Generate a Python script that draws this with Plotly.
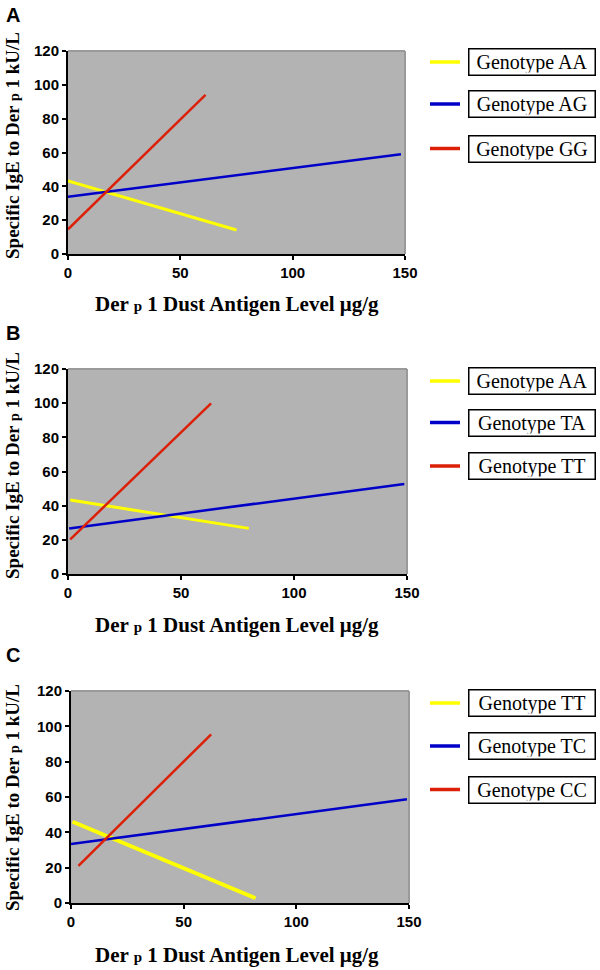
import plotly.graph_objects as go

# ---- data ----
panel_letters = ["A", "B", "C"]
names_a = ["Genotype AA", "Genotype AG", "Genotype GG"]
names_b = ["Genotype AA", "Genotype TA", "Genotype TT"]
names_c = ["Genotype TT", "Genotype TC", "Genotype CC"]

a_aa_x = [0, 75];    a_aa_y = [43.2, 14.2]
a_ag_x = [0, 148.2]; a_ag_y = [33.8, 59.0]
a_gg_x = [0, 61.2];  a_gg_y = [14.6, 94.0]

b_aa_x = [1, 80];    b_aa_y = [43.3, 26.7]
b_ta_x = [0.5, 148.8]; b_ta_y = [26.7, 52.7]
b_tt_x = [1, 63.3];  b_tt_y = [20.3, 99.9]

c_tt_x = [0.7, 81.9]; c_tt_y = [46.0, 2.7]
c_tc_x = [0, 149.1];  c_tc_y = [33.4, 58.7]
c_cc_x = [3.3, 62.2]; c_cc_y = [21.0, 95.5]

x_ticks = [0, 50, 100, 150]
y_ticks = [0, 20, 40, 60, 80, 100, 120]

colors = ["#ffff00", "#0000c8", "#dc2008"]
widths = [3, 2.5, 2.5]

W, H = 600, 970
# pixel layout of each panel: (left, right, top, bottom)
boxes = [(68, 405, 51, 254), (68, 407, 369, 574), (71, 409, 691, 903)]
legend_centers = [[62, 104, 148.5], [381, 422.5, 466], [703, 746, 789.5]]
xtitle_y = [304, 625, 955]
ytitle_y = [146, 466, 798]
letter_y = [15, 333, 655]

panels = [
    (names_a, [(a_aa_x, a_aa_y), (a_ag_x, a_ag_y), (a_gg_x, a_gg_y)]),
    (names_b, [(b_aa_x, b_aa_y), (b_ta_x, b_ta_y), (b_tt_x, b_tt_y)]),
    (names_c, [(c_tt_x, c_tt_y), (c_tc_x, c_tc_y), (c_cc_x, c_cc_y)]),
]

fig = go.Figure()
annotations = []
shapes = []

serif = "Liberation Serif, Times New Roman, serif"
sans = "Liberation Sans, Arial, sans-serif"

for i, (names, series) in enumerate(panels):
    xa = "x" if i == 0 else f"x{i+1}"
    ya = "y" if i == 0 else f"y{i+1}"
    xkey = "xaxis" if i == 0 else f"xaxis{i+1}"
    ykey = "yaxis" if i == 0 else f"yaxis{i+1}"
    L, R, T, B = boxes[i]
    for j, (xs, ys) in enumerate(series):
        lw = widths[j]
        if i == 2 and j == 0:
            lw = 4
        fig.add_trace(go.Scatter(x=xs, y=ys, mode="lines", name=names[j],
                                 line=dict(color=colors[j], width=lw),
                                 xaxis=xa, yaxis=ya, showlegend=False))
    tf = dict(family=sans, size=15, color="black", weight=700)
    fig.update_layout(**{
        xkey: dict(domain=[L / W, R / W], range=[0, 150], anchor=ya, automargin=False,
                   tickvals=x_ticks, ticks="outside", ticklen=4, tickwidth=1.5,
                   tickcolor="black", showline=True, linecolor="black", linewidth=2,
                   showgrid=False, zeroline=False, tickfont=tf),
        ykey: dict(domain=[1 - B / H, 1 - T / H], range=[0, 120], anchor=xa, automargin=False,
                   tickvals=y_ticks, ticks="outside", ticklen=4, tickwidth=1.5,
                   tickcolor="black", showline=True, linecolor="black", linewidth=2,
                   showgrid=False, zeroline=False, tickfont=tf),
    })
    # grey top/right border of plot area
    shapes.append(dict(type="line", xref="paper", yref="paper",
                       x0=L / W, x1=R / W, y0=1 - T / H, y1=1 - T / H,
                       line=dict(color="#9a9a9a", width=2)))
    shapes.append(dict(type="line", xref="paper", yref="paper",
                       x0=R / W, x1=R / W, y0=1 - T / H, y1=1 - B / H,
                       line=dict(color="#9a9a9a", width=2)))
    # legend
    for j, name in enumerate(names):
        cy = 1 - legend_centers[i][j] / H
        shapes.append(dict(type="line", xref="paper", yref="paper",
                           x0=430 / W, x1=460 / W, y0=cy, y1=cy,
                           line=dict(color=colors[j], width=3.5)))
        annotations.append(dict(xref="paper", yref="paper", x=468 / W, y=cy,
                                xanchor="left", yanchor="middle", showarrow=False,
                                text=name, width=121, height=21, borderpad=2,
                                bordercolor="black", borderwidth=1.5, bgcolor="white",
                                font=dict(family=serif, size=20, color="black")))
    # axis titles
    annotations.append(dict(xref="paper", yref="paper", x=237 / W, y=1 - xtitle_y[i] / H,
                            xanchor="center", yanchor="middle", showarrow=False,
                            text="Der <span style='font-size:15px'>p</span> 1 Dust Antigen Level \u03bcg/g",
                            font=dict(family=serif, size=21, color="black", weight=700)))
    annotations.append(dict(xref="paper", yref="paper", x=12 / W, y=1 - ytitle_y[i] / H,
                            xanchor="center", yanchor="middle", showarrow=False, textangle=-90,
                            text="Specific IgE to Der <span style='font-size:14px'>p</span> 1 kU/L",
                            font=dict(family=serif, size=19, color="black", weight=700)))
    annotations.append(dict(xref="paper", yref="paper", x=4 / W, y=1 - letter_y[i] / H,
                            xanchor="left", yanchor="middle", showarrow=False,
                            text=panel_letters[i],
                            font=dict(family=sans, size=20, color="black", weight=700)))

fig.update_layout(width=W, height=H,
                  margin=dict(l=0, r=0, t=0, b=0, pad=0, autoexpand=False),
                  paper_bgcolor="white", plot_bgcolor="#b3b3b3",
                  annotations=annotations, shapes=shapes, showlegend=False)

fig.write_html("out.html", config={"displayModeBar": False},
               post_script="document.body.style.margin='0px';document.body.style.overflow='hidden';")
